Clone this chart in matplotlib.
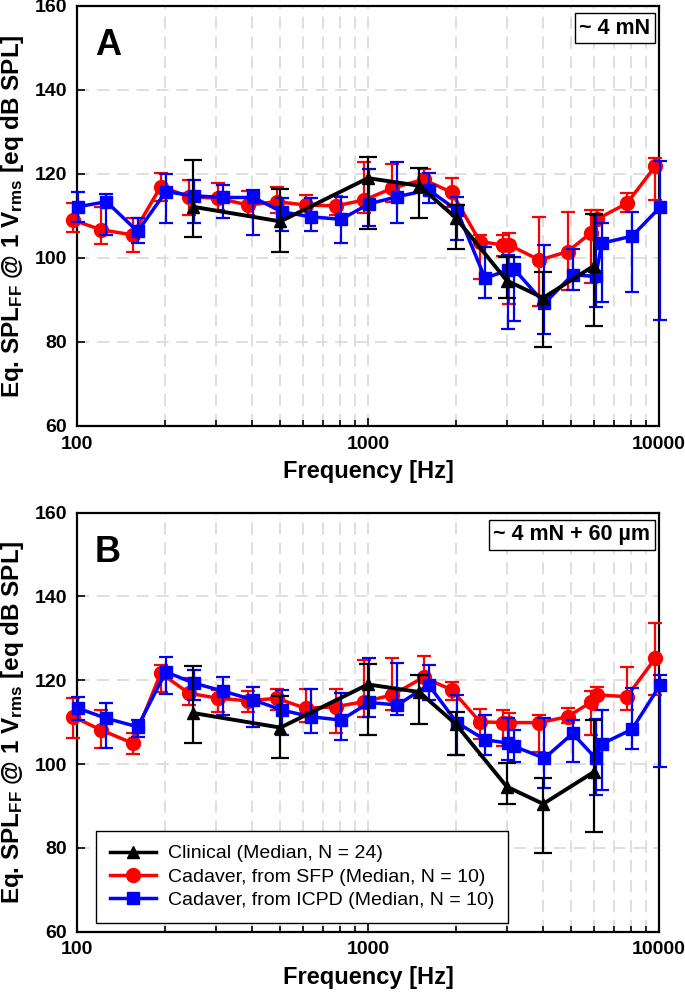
import matplotlib.pyplot as plt
from matplotlib.lines import Line2D
from matplotlib.ticker import FixedLocator, NullFormatter

plt.rcParams['font.family'] = ['Liberation Sans', 'DejaVu Sans']

# frequencies [Hz]
freq_cad = [100, 125, 160, 200, 250, 315, 400, 500, 630, 800, 1000, 1250,
            1600, 2000, 2500, 3000, 3150, 4000, 5000, 6000, 6300, 8000, 10000]
freq_clin = [250, 500, 1000, 1500, 2000, 3000, 4000, 6000]

# clinical (same in both panels): median, lower, upper
clin = [112.2, 108.7, 119.0, 117.2, 109.6, 94.6, 90.5, 98.2]
clin_lo = [105.0, 101.5, 106.9, 109.5, 102.2, 90.5, 78.8, 83.8]
clin_hi = [123.3, 116.3, 124.0, 121.3, 112.5, 100.3, 96.7, 110.4]

# panel A, cadaver from SFP
sfp_a = [109.0, 106.7, 105.5, 117.0, 114.6, 114.2, 112.6, 113.4, 112.6, 112.4, 113.8, 116.6,
         118.7, 115.6, 103.9, 103.1, 103.1, 99.5, 101.5, 105.9, 109.2, 113.0, 121.8]
sfp_a_lo = [106.2, 103.3, 101.5, 113.5, 110.2, 111.4, 110.2, 110.6, 110.2, 110.2, 110.6, 113.4,
            115.4, 112.2, 95.0, 100.5, 89.0, 88.5, 92.4, 94.0, 104.3, 111.0, 113.7]
sfp_a_hi = [113.1, 112.2, 109.4, 120.3, 118.6, 117.9, 116.0, 116.8, 115.0, 114.8, 122.9, 122.3,
            121.1, 119.0, 105.5, 105.5, 105.9, 109.7, 111.0, 111.3, 111.3, 115.4, 123.7]

# panel A, cadaver from ICPD
icpd_a = [112.2, 113.4, 106.3, 115.8, 114.8, 114.4, 114.4, 111.0, 109.8, 109.2, 112.9, 114.6,
          116.2, 111.4, 95.2, 97.1, 97.3, 89.2, 96.0, 95.6, 103.5, 105.2, 112.1]
icpd_a_lo = [108.6, 105.4, 103.5, 108.3, 108.4, 109.4, 105.5, 106.3, 106.3, 103.5, 107.5, 108.3,
             113.0, 104.3, 90.4, 83.0, 85.0, 82.0, 92.4, 88.4, 89.6, 92.0, 85.2]
icpd_a_hi = [115.7, 115.2, 109.4, 119.9, 118.6, 117.4, 116.2, 114.2, 114.2, 114.6, 121.1, 122.9,
             120.3, 114.4, 102.7, 100.7, 100.3, 103.1, 102.1, 110.2, 108.4, 111.0, 123.2]

# panel B, cadaver from SFP
sfp_b = [111.3, 108.1, 105.0, 121.7, 116.9, 115.7, 115.1, 115.7, 113.3, 113.7, 114.9, 116.5,
         120.7, 117.7, 110.1, 109.9, 109.9, 109.9, 111.3, 114.7, 116.5, 116.1, 125.2]
sfp_b_lo = [106.2, 103.8, 102.5, 117.3, 114.1, 112.5, 112.5, 112.9, 110.1, 107.3, 111.3, 112.9,
            117.7, 115.3, 106.1, 104.2, 104.5, 103.0, 109.7, 106.9, 112.9, 112.9, 116.5]
sfp_b_hi = [115.7, 112.9, 107.5, 123.7, 120.5, 117.7, 117.5, 117.8, 117.8, 117.8, 124.8, 125.2,
            125.8, 119.7, 113.1, 112.8, 112.1, 111.7, 113.3, 117.5, 118.3, 123.1, 133.6]

# panel B, cadaver from ICPD
icpd_b = [113.3, 110.9, 108.9, 122.0, 119.3, 117.4, 115.3, 112.9, 111.3, 110.5, 114.7, 114.1,
          118.9, 109.9, 105.8, 105.0, 104.2, 101.4, 107.3, 101.4, 104.8, 108.3, 118.9]
icpd_b_lo = [110.5, 103.8, 106.5, 116.7, 115.3, 111.7, 108.9, 107.0, 107.3, 105.8, 111.3, 111.7,
             115.3, 102.2, 102.2, 101.0, 100.6, 94.2, 100.6, 92.6, 93.8, 103.5, 99.2]
icpd_b_hi = [116.1, 114.5, 110.5, 125.6, 122.5, 120.7, 118.5, 117.7, 117.9, 116.9, 125.2, 124.2,
             123.7, 116.5, 111.7, 110.9, 108.1, 110.9, 110.4, 110.7, 112.9, 118.1, 121.3]

labels = ["Clinical (Median, N = 24)",
          "Cadaver, from SFP (Median, N = 10)",
          "Cadaver, from ICPD (Median, N = 10)"]

# style per series: colour, marker, marker size
sty_clin = dict(color='black', marker='^', markersize=8)
sty_sfp = dict(color='#ff0000', marker='o', markersize=10)
sty_icpd = dict(color='#0000ff', marker='s', markersize=9)


def err(v, lo, hi):
    return [[a - b for a, b in zip(v, lo)], [c - a for a, c in zip(v, hi)]]


def draw_panel(ax, sfp, sfp_lo, sfp_hi, icpd, icpd_lo, icpd_hi, letter, note):
    # small dodge so the series do not sit on top of each other
    f_red = [f * 0.97 for f in freq_cad]
    f_blue = [f * 1.01 for f in freq_cad]
    ax.errorbar(f_red, sfp, yerr=err(sfp, sfp_lo, sfp_hi), lw=2.5, elinewidth=1.6,
                capsize=5, capthick=1.6, clip_on=False, zorder=3, **sty_sfp)
    ax.errorbar(f_blue, icpd, yerr=err(icpd, icpd_lo, icpd_hi), lw=2.5, elinewidth=1.6,
                capsize=5, capthick=1.6, clip_on=False, zorder=4, **sty_icpd)
    ax.errorbar(freq_clin, clin, yerr=err(clin, clin_lo, clin_hi), lw=2.8, elinewidth=1.6,
                capsize=6.5, capthick=1.6, clip_on=False, zorder=5, **sty_clin)

    ax.set_xscale('log')
    ax.set_xlim(100, 10000)
    ax.set_ylim(60, 160)
    ax.set_yticks([60, 80, 100, 120, 140, 160])
    ax.xaxis.set_major_locator(FixedLocator([100, 1000, 10000]))
    ax.xaxis.set_minor_locator(FixedLocator([200, 300, 400, 500, 600, 700, 800, 900,
                                             2000, 3000, 4000, 5000, 6000, 7000, 8000, 9000]))
    ax.xaxis.set_minor_formatter(NullFormatter())
    ax.set_xticklabels(['100', '1000', '10000'])
    ax.tick_params(which='both', direction='in', labelsize=14, width=1.2, pad=7,
                   top=False, right=False)
    ax.tick_params(which='major', length=6)
    ax.tick_params(which='minor', length=4)
    for t in ax.get_xticklabels() + ax.get_yticklabels():
        t.set_fontweight('bold')

    ax.grid(True, which='major', color='#d6d6d6', linestyle=(0, (8, 5)), lw=1.1, zorder=0)
    ax.grid(True, which='minor', axis='x', color='#d6d6d6', linestyle=(0, (8, 5)), lw=1.1, zorder=0)
    for s in ax.spines.values():
        s.set_linewidth(1.6)

    ax.set_xlabel('Frequency [Hz]', fontsize=17, fontweight='bold')
    ax.xaxis.set_label_coords(0.5, -0.082)
    ax.set_ylabel(r'Eq. SPL$\mathregular{_{FF}}$ @ 1 V$\mathregular{_{rms}}$ [eq dB SPL]',
                  fontsize=17.5, fontweight='bold')
    ax.yaxis.set_label_coords(-0.088, 0.5)

    ax.text(0.031, 0.905, letter, transform=ax.transAxes, fontsize=26, fontweight='bold',
            ha='left', va='center')
    ax.text(0.985, 0.972, note, transform=ax.transAxes, fontsize=15.5, fontweight='bold',
            ha='right', va='top',
            bbox=dict(boxstyle='square,pad=0.2', facecolor='white', edgecolor='black', lw=1))


fig = plt.figure(figsize=(6.85, 9.92), dpi=100)
ax_a = fig.add_axes([0.1124, 0.5706, 0.8496, 0.4234])
ax_b = fig.add_axes([0.1124, 0.0608, 0.8496, 0.4224])

draw_panel(ax_a, sfp_a, sfp_a_lo, sfp_a_hi, icpd_a, icpd_a_lo, icpd_a_hi, 'A', '~ 4 mN')
draw_panel(ax_b, sfp_b, sfp_b_lo, sfp_b_hi, icpd_b, icpd_b_lo, icpd_b_hi, 'B', '~ 4 mN + 60 µm')

handles = [Line2D([], [], lw=2.5, **s) for s in (sty_clin, sty_sfp, sty_icpd)]
leg = ax_b.legend(handles, labels, loc='lower left',
                  bbox_to_anchor=(0.033, 0.021), borderaxespad=0, fontsize=14,
                  fancybox=False, framealpha=1, edgecolor='black', handlelength=2.4,
                  labelspacing=0.3, handletextpad=0.6, borderpad=0.7)
leg.get_frame().set_linewidth(1.0)

fig.savefig('out.png', dpi=100)
